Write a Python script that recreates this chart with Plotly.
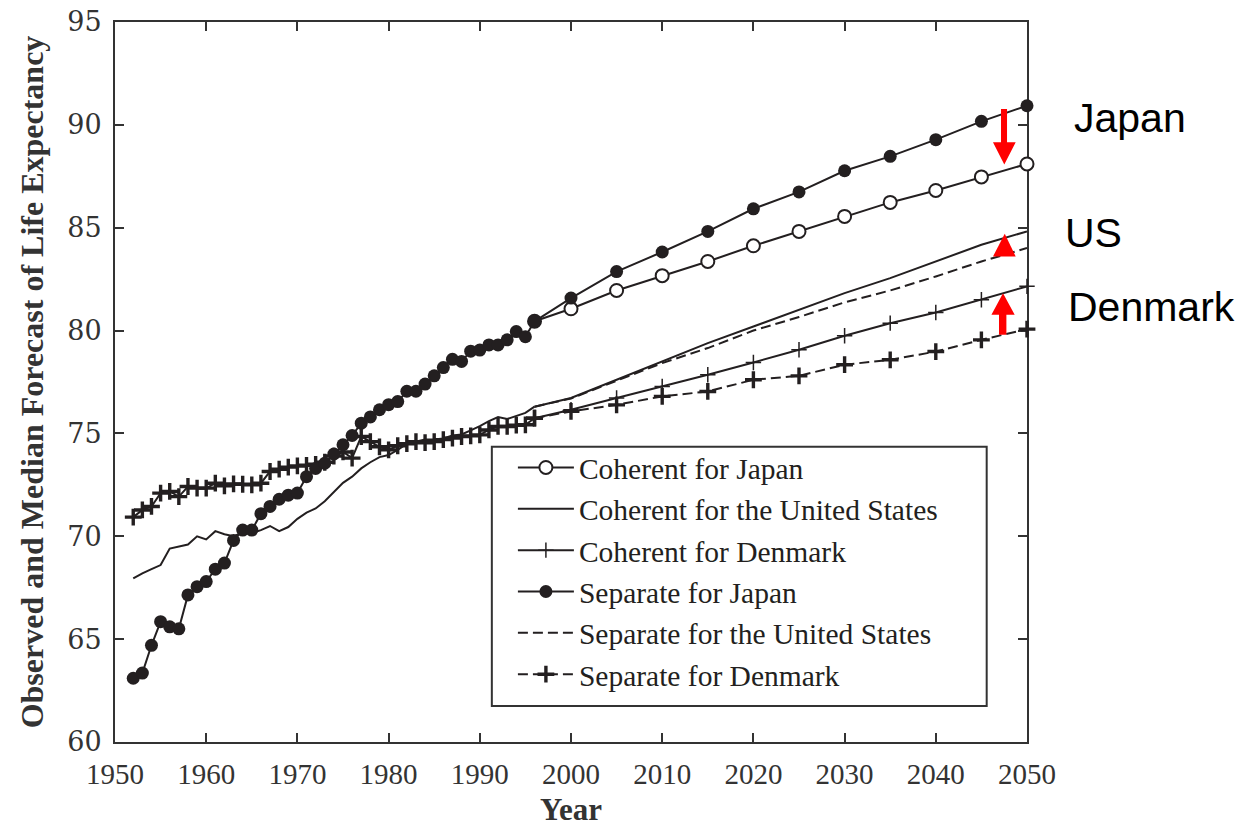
import plotly.graph_objects as go

# Observed life expectancy, 1952-1996
obs_years = list(range(1952, 1997))
japan_obs = [63.1, 63.35, 64.7, 65.85, 65.6, 65.5, 67.15, 67.55, 67.8, 68.4,
             68.7, 69.8, 70.3, 70.3, 71.1, 71.45, 71.8, 72.0, 72.1, 72.9,
             73.3, 73.55, 74.0, 74.45, 74.9, 75.5, 75.8, 76.15, 76.4, 76.55,
             77.05, 77.05, 77.4, 77.8, 78.2, 78.6, 78.5, 79.0, 79.05, 79.3,
             79.3, 79.55, 79.95, 79.7, 80.45]
us_obs = [67.95, 68.2, 68.4, 68.6, 69.4, 69.5, 69.6, 70.0, 69.85, 70.25,
          70.1, 70.0, 70.2, 70.15, 70.3, 70.5, 70.25, 70.45, 70.85, 71.15,
          71.35, 71.7, 72.15, 72.6, 72.9, 73.3, 73.6, 73.85, 73.95, 74.2,
          74.5, 74.6, 74.7, 74.7, 74.75, 74.9, 74.95, 75.15, 75.35, 75.6,
          75.8, 75.7, 75.85, 76.0, 76.3]
denmark_obs = [70.93, 71.28, 71.45, 72.1, 72.18, 71.93, 72.42, 72.34, 72.34, 72.58,
               72.45, 72.55, 72.53, 72.5, 72.58, 73.15, 73.26, 73.36, 73.42, 73.45,
               73.5, 73.6, 73.9, 74.1, 73.8, 74.85, 74.6, 74.35, 74.2, 74.4,
               74.5, 74.6, 74.55, 74.6, 74.7, 74.77, 74.85, 74.88, 74.93, 75.17,
               75.34, 75.34, 75.4, 75.42, 75.74]

# Median forecasts, 2000-2050
fc_years = [2000, 2005, 2010, 2015, 2020, 2025, 2030, 2035, 2040, 2045, 2050]
japan_coherent = [81.06, 81.95, 82.67, 83.36, 84.12, 84.82, 85.55, 86.23, 86.81, 87.47, 88.1]
us_coherent = [76.72, 77.61, 78.5, 79.39, 80.2, 81.01, 81.82, 82.55, 83.36, 84.17, 84.82]
denmark_coherent = [76.15, 76.72, 77.28, 77.85, 78.45, 79.07, 79.75, 80.36, 80.88, 81.5, 82.15]
japan_separate = [81.58, 82.87, 83.82, 84.82, 85.92, 86.74, 87.77, 88.47, 89.28, 90.17, 90.93]
us_separate = [76.7, 77.56, 78.42, 79.15, 80.0, 80.66, 81.37, 81.95, 82.63, 83.36, 84.01]
denmark_separate = [76.07, 76.39, 76.8, 77.04, 77.61, 77.8, 78.34, 78.58, 78.98, 79.55, 80.07]

x_ticks = list(range(1950, 2051, 10))
y_ticks = list(range(60, 96, 5))

INK = "#231f20"
AXIS = "#333333"
SERIF = "Liberation Serif"

# forecasts continue from the last observed year
fx = [obs_years[-1]] + fc_years

fig = go.Figure()

def add(name, x, y, dash="solid", lw=2, marker=None, legend=True):
    kw = dict(mode="lines")
    if marker is not None:
        kw = dict(mode="lines+markers", marker=marker)
    fig.add_trace(go.Scatter(
        x=x, y=y, name=name, showlegend=legend, cliponaxis=False,
        line=dict(color=INK, width=lw, dash=dash), legendgroup=name, **kw))

open_circle = dict(symbol="circle", size=13, color="white", line=dict(color=INK, width=2))
filled_circle = dict(symbol="circle", size=13, color=INK, line=dict(color=INK, width=0))
thin_cross = dict(symbol="cross-thin", size=11, color=INK, line=dict(color=INK, width=1.5))
bold_cross = dict(symbol="cross-thin", size=12, color=INK, line=dict(color=INK, width=3.4))

add("Coherent for Japan", fx, [japan_obs[-1]] + japan_coherent, marker=open_circle)
add("Coherent for the United States", fx, [us_obs[-1]] + us_coherent)
add("Coherent for Denmark", fx, [denmark_obs[-1]] + denmark_coherent, marker=thin_cross)
add("Separate for Japan", fx, [japan_obs[-1]] + japan_separate, marker=filled_circle)
add("Separate for the United States", fx, [us_obs[-1]] + us_separate, dash="10px,5px")
add("Separate for Denmark", fx, [denmark_obs[-1]] + denmark_separate,
    dash="10px,5px", marker=bold_cross)

# observed series on top
add("Denmark observed", obs_years, denmark_obs, marker=bold_cross, legend=False)
add("US observed", obs_years, us_obs, legend=False)
add("Japan observed", obs_years, japan_obs, marker=filled_circle, legend=False)

# red arrows marking the shift between separate and coherent forecasts
RED = "#ff0000"
arrows = [
    # Japan: pointing down
    "M 2047.15,90.77 L 2047.81,90.77 L 2047.81,89.15 L 2048.76,89.15 "
    "L 2047.51,88.07 L 2046.27,89.15 L 2047.15,89.15 Z",
    # United States: head only
    "M 2046.27,83.6 L 2048.76,83.6 L 2047.56,84.71 Z",
    # Denmark: pointing up
    "M 2046.93,79.8 L 2047.74,79.8 L 2047.74,80.77 L 2048.65,80.77 "
    "L 2047.37,81.82 L 2046.1,80.77 L 2046.93,80.77 Z",
]
shapes = [dict(type="path", path=p, xref="x", yref="y", fillcolor=RED,
               line=dict(width=0), layer="above") for p in arrows]

# framed box behind the legend entries
shapes.append(dict(type="rect", xref="paper", yref="paper",
                   x0=0.4132, x1=0.9558, y0=0.05, y1=0.41,
                   fillcolor="white", line=dict(color=AXIS, width=2), layer="below"))

labels = [("Japan", 1.0498, 0.867), ("US", 1.039, 0.7072), ("Denmark", 1.0424, 0.6044)]
annotations = [dict(text=t, x=x, y=y, xref="paper", yref="paper", xanchor="left",
                    yanchor="middle", showarrow=False,
                    font=dict(family="Liberation Sans", size=41, color="black"))
               for t, x, y in labels]

axis_common = dict(showline=True, linecolor=AXIS, linewidth=2, mirror="ticks",
                   ticks="inside", ticklen=9, tickwidth=2, tickcolor=AXIS,
                   showgrid=False, zeroline=False, layer="below traces",
                   automargin=False)

fig.update_layout(
    width=1250, height=827,
    margin=dict(l=115, r=223, t=22, b=85),
    paper_bgcolor="white", plot_bgcolor="white",
    showlegend=True,
    xaxis=dict(range=[1950, 2050], tickvals=x_ticks,
               tickfont=dict(family=SERIF, size=29, color=AXIS),
               ticklabelstandoff=5,
               title=dict(text="<b>Year</b>", standoff=29,
                          font=dict(family=SERIF, size=31, color=AXIS)),
               **axis_common),
    yaxis=dict(range=[60, 95], tickvals=y_ticks,
               tickfont=dict(family="DejaVu Serif", size=27, color=AXIS),
               ticklabelstandoff=6,
               title=dict(text="<b>Observed and Median Forecast of Life Expectancy</b>",
                          standoff=14, font=dict(family=SERIF, size=32, color=AXIS)),
               **axis_common),
    legend=dict(x=0.4363, y=0.417, xanchor="left", yanchor="top",
                bgcolor="rgba(0,0,0,0)", borderwidth=0,
                font=dict(family=SERIF, size=29.5, color=INK),
                tracegroupgap=0, itemwidth=56, traceorder="normal"),
    shapes=shapes,
    annotations=annotations,
)

fig.write_html("out.html")
